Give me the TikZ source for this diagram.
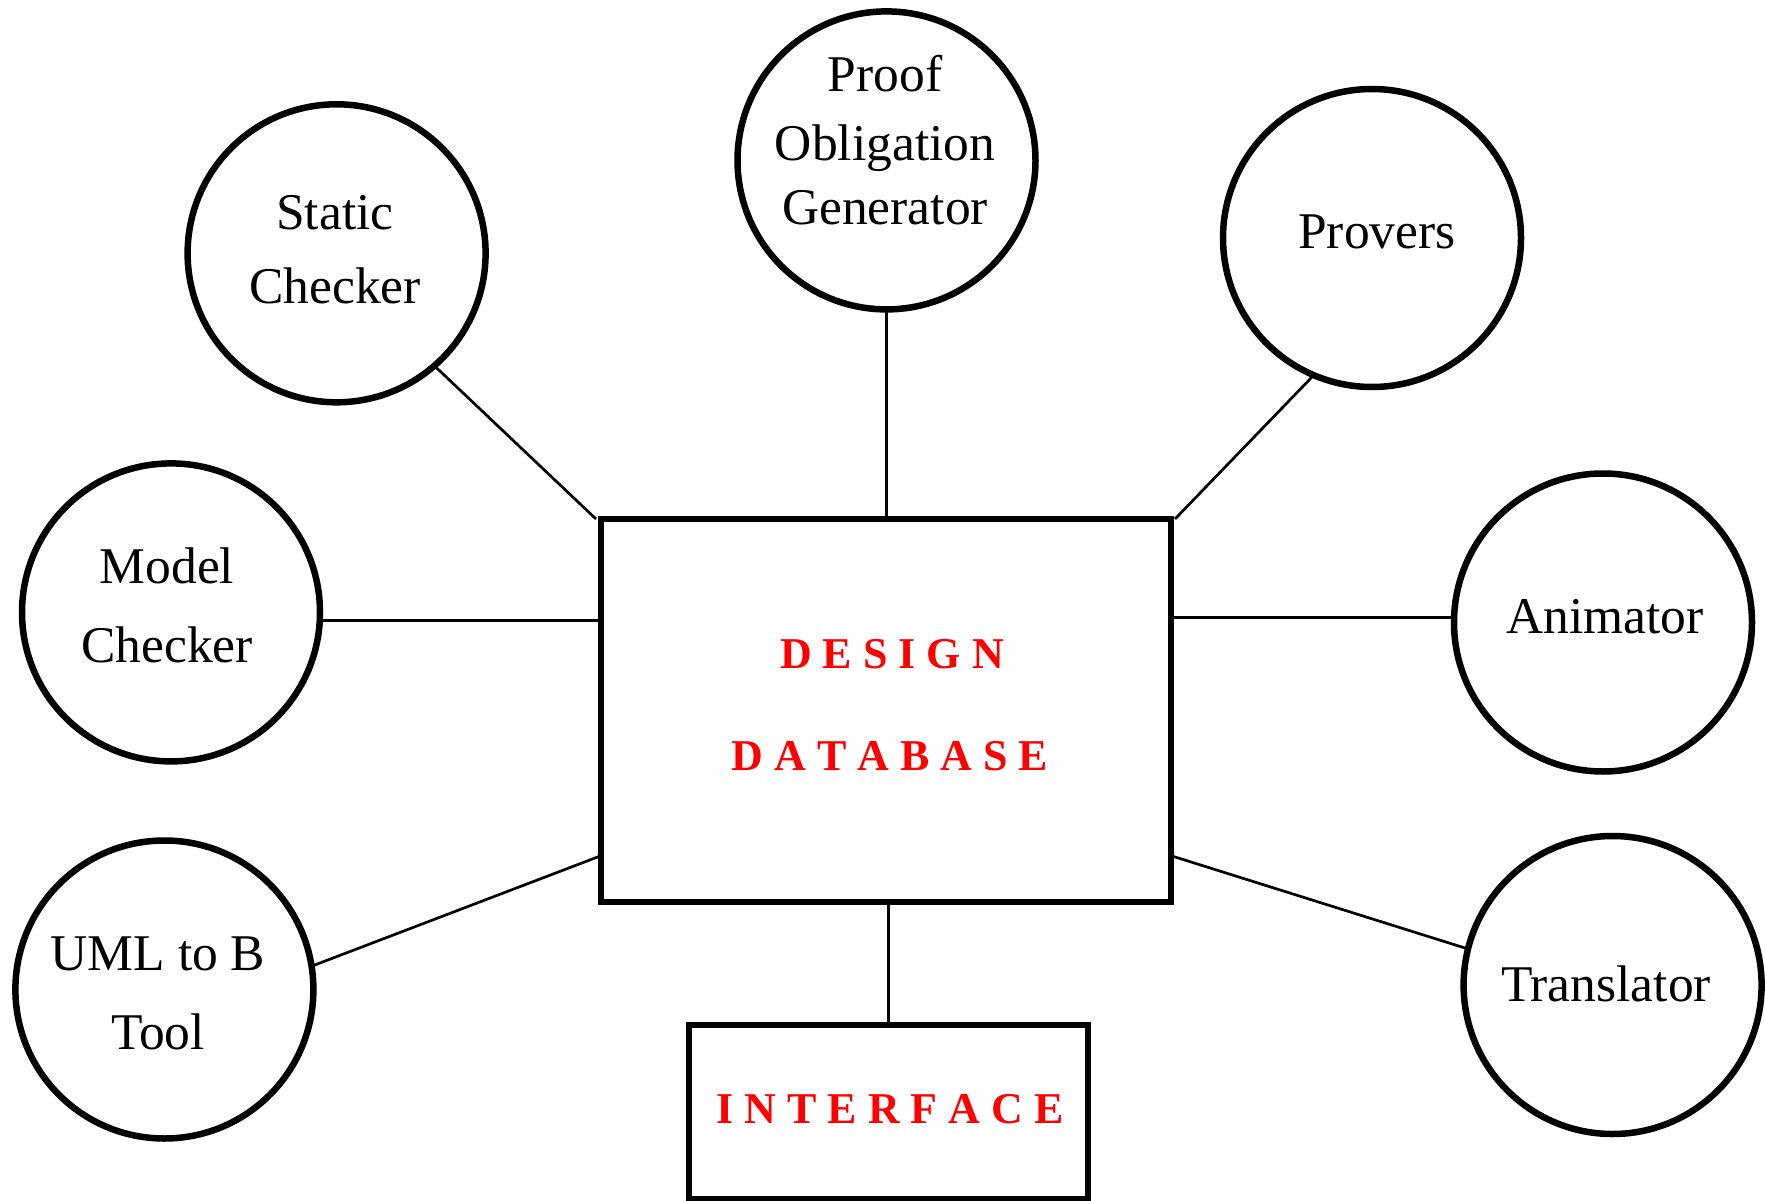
\documentclass[tikz,border=0pt]{standalone}
\usepackage{fontspec}
\setmainfont{Liberation Serif}
\begin{document}
\begin{tikzpicture}[x=1pt,y=-1pt,
  tool/.style={circle,draw,line width=6.5pt,minimum size=298pt,inner sep=0pt,outer sep=0pt},
  box/.style={rectangle,draw,line width=6.7pt,inner sep=0pt,outer sep=0pt},
  lbl/.style={anchor=base,inner sep=0pt,font=\fontsize{51.5}{62}\selectfont},
  redlbl/.style={anchor=base,inner sep=0pt,text=red,font=\fontsize{44}{53}\selectfont\bfseries},
  link/.style={line width=2.7pt}]
\useasboundingbox (0,0) rectangle (1765,1201);
\fill[white] (0,0) rectangle (1765,1201);
% circles
\node[tool] (sc) at (336.6,253.3) {};
\node[tool] (pog) at (886.5,160.4) {};
\node[tool] (pv) at (1372,238) {};
\node[tool] (mc) at (171,612.4) {};
\node[tool] (an) at (1603,622.5) {};
\node[tool] (ub) at (164.4,989.5) {};
\node[tool] (tr) at (1612.6,985) {};
% boxes
\node[box,minimum width=570pt,minimum height=383pt] (db) at (886,710.5) {};
\node[box,line width=6pt,minimum width=398.5pt,minimum height=174pt] (ifc) at (888.3,1112.3) {};
% labels
\node[lbl] (sc1) at (335,230) {Static};
\node[lbl] (sc2) at (335,303) {Checker};
\node[lbl] (pog1) at (885,91.5) {Proof};
\node[lbl] (pog2) at (885,160.5) {Obligation};
\node[lbl] (pog3) at (885,224.5) {Generator};
\node[lbl] (pv1) at (1377,249) {Provers};
\node[lbl] (mc1) at (167,583) {Model};
\node[lbl] (mc2) at (167,662) {Checker};
\node[lbl] (an1) at (1605,633) {Animator};
\node[lbl] (ub1) at (158,970.5) {UML to B};
\node[lbl] (ub2) at (158,1049.5) {Tool};
\node[lbl] (tr1) at (1606,1001) {Translator};
\node[redlbl] (db1) at (892,668) {D E S I G N};
\node[redlbl] (db2) at (890,770.5) {D A T A B A S E};
\node[redlbl] (if1) at (890,1123.5) {I N T E R F A C E};
% connectors
\draw[link] (sc.-49) -- ([xshift=-5pt]db.north west);
\draw[link] (pog.south) -- (pog.south |- db.north);
\draw[link] (pv.-113) -- ([xshift=4pt]db.north east);
\draw[link] (mc.-3.8) -- (mc.-3.8 -| db.west);
\draw[link] (an.178) -- (an.178 -| db.east);
\draw[link] (ub.9.35) -- (db.207.5);
\draw[link] (tr.166.2) -- (db.-27.5);
\draw[link] (db.south -| ifc.north) -- (ifc.north);
\end{tikzpicture}
\end{document}
